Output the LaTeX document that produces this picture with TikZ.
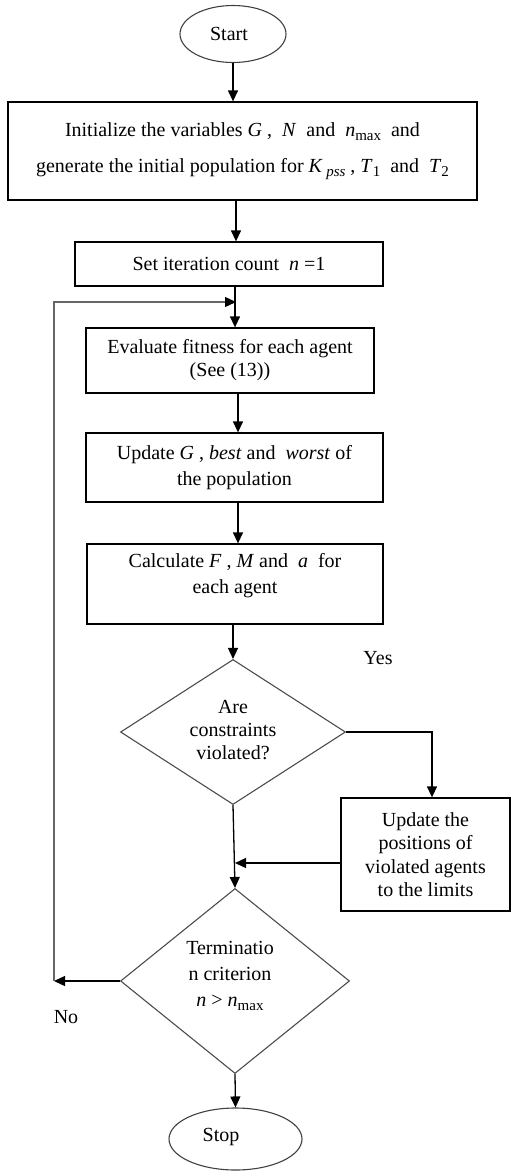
\documentclass[tikz,border=0pt]{standalone}
\usepackage{fontspec}
\setmainfont{Liberation Serif}
\usetikzlibrary{shapes.geometric,arrows.meta}
\newcommand\subx[1]{\raisebox{-0.45ex}{\fontsize{15}{15}\selectfont #1}}
\begin{document}
\begin{tikzpicture}[x=1pt,y=-1pt,
  txt/.style={font=\fontsize{20}{23}\selectfont, align=center, inner sep=0pt},
  box/.style={draw=black, line width=1.3pt, inner sep=0pt, align=center, font=\fontsize{20}{23}\selectfont},
  term/.style={ellipse, draw=black!75, line width=1.1pt, inner sep=0pt, font=\fontsize{20}{23}\selectfont},
  dec/.style={diamond, draw=black!70, line width=1.1pt, inner sep=0pt},
  arr/.style={-{Triangle[length=11pt,width=10pt]}, line width=1.3pt, draw=black},
  fb/.style={line width=1.6pt, draw=black!60}
]
\useasboundingbox (0,0) rectangle (511,1171);

\node[term, minimum width=106pt, minimum height=57pt] (start) at (233,34) {};
\node[txt] (startt) at (229,34) {Start};

\node[box, minimum width=469pt, minimum height=98pt, font=\fontsize{20}{36}\selectfont] (init) at (242.5,151)
  {Initialize the variables \textit{G} ,\ \ \textit{N} \ and \ \textit{n}\subx{max} \ and\\
   generate the initial population for \textit{K}\,\subx{\textit{pss}} , \textit{T}\subx{1} \ and \ \textit{T}\subx{2}};

\node[box, minimum width=308pt, minimum height=44pt] (set) at (229,264) {Set iteration count \ \textit{n} =1};

\node[box, minimum width=288pt, minimum height=65pt] (eval) at (230,360.5) {Evaluate fitness for each agent\\(See (13))};

\node[box, minimum width=297pt, minimum height=69pt, font=\fontsize{20}{26}\selectfont] (upd) at (234.5,467.5)
  {Update \textit{G} ,\ \textit{best} and \ \textit{worst} of\\the population};

\node[box, minimum width=296pt, minimum height=80pt] (calc) at (235,584) {};
\node[txt, font=\fontsize{20}{26}\selectfont] (calct) at (235,576)
  {Calculate \textit{F} ,\ \textit{M} and \ \textit{a} \ for\\each agent};

\node[dec, minimum width=225pt, minimum height=145pt] (d1) at (233,732) {};
\node[txt] (d1t) at (233,730) {Are\\constraints\\violated?};

\node[box, minimum width=169pt, minimum height=113pt, font=\fontsize{20}{23.3}\selectfont] (fix) at (425.5,854.5)
  {Update the\\positions of\\violated agents\\to the limits};

\node[dec, minimum width=229pt, minimum height=185pt] (d2) at (235,981) {};
\node[txt, font=\fontsize{20}{26}\selectfont] (d2t) at (230,976) {Terminatio\\n criterion\\\textit{n} > \textit{n}\subx{max}};

\node[term, minimum width=133pt, minimum height=62pt] (stop) at (235.5,1139) {};
\node[txt] (stopt) at (221,1137) {Stop};

\node[txt] (yes) at (378,658) {Yes};
\node[txt] (no) at (66,1017) {No};

\coordinate (join) at (235,863);
\coordinate (lft) at (54,981);
\coordinate (loopin) at (236,302);

\draw[arr] (start.south) -- (start.south |- init.north);
\draw[arr] ([xshift=7pt]set.north |- init.south) -- ([xshift=7pt]set.north);
\draw[arr] ([xshift=6pt]set.south) -- ([xshift=6pt]set.south |- eval.north);
\draw[arr] ([xshift=8pt]eval.south) -- ([xshift=8pt]eval.south |- upd.north);
\draw[arr] ([xshift=3.5pt]upd.south) -- ([xshift=3.5pt]upd.south |- calc.north);
\draw[arr] (d1.north |- calc.south) -- (d1.north);
\draw[arr] (d1.east) -| ([xshift=6.5pt]fix.north);
\draw[arr] (d1.south) -- (d2.north);
\draw[arr] (fix.west |- join) -- (join);
\draw[arr] (d2.west) -- (lft);
\draw[fb] (lft) -- (lft |- loopin) -- ([xshift=-10pt]loopin);
\draw[arr] ([xshift=-11pt]loopin) -- (loopin);
\draw[arr] (d2.south) -- (stop.north);
\end{tikzpicture}
\end{document}
